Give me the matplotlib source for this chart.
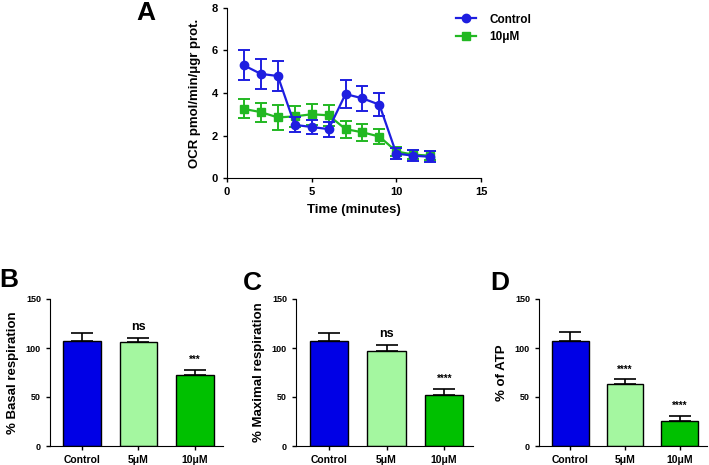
import matplotlib
matplotlib.use("Agg")
import matplotlib.pyplot as plt
from matplotlib.lines import Line2D

plt.rcParams['font.family'] = ['Liberation Sans', 'DejaVu Sans']
plt.rcParams['font.weight'] = 'bold'
plt.rcParams['axes.labelweight'] = 'bold'

# panel A data
minutes = [1, 2, 3, 4, 5, 6, 7, 8, 9, 10, 11, 12]
ctrl_ocr = [5.3, 4.9, 4.8, 2.5, 2.4, 2.3, 3.95, 3.75, 3.45, 1.15, 1.05, 1.0]
ctrl_err = [0.7, 0.7, 0.7, 0.35, 0.35, 0.35, 0.65, 0.6, 0.55, 0.25, 0.25, 0.25]
drug_ocr = [3.25, 3.1, 2.85, 2.9, 3.0, 2.95, 2.3, 2.15, 1.95, 1.25, 1.1, 1.05]
drug_err = [0.45, 0.45, 0.6, 0.5, 0.5, 0.5, 0.4, 0.4, 0.35, 0.2, 0.2, 0.2]

# panels B-D data
groups = ['Control', '5\u03bcM', '10\u03bcM']
basal = [107, 106, 72]
basal_err = [8, 4, 6]
basal_sig = ['', 'ns', '***']
maximal = [107, 97, 52]
maximal_err = [8, 6, 6]
maximal_sig = ['', 'ns', '****']
atp = [107, 63, 26]
atp_err = [9, 5, 5]
atp_sig = ['', '****', '****']

blue_line = '#1e1ee0'
green_line = '#22b822'
bar_colors = ['#0000e6', '#a4f7a0', '#00c000']

fig = plt.figure(figsize=(7.09, 4.65), dpi=100)


def style(ax, xsize, ysize):
    ax.spines['top'].set_visible(False)
    ax.spines['right'].set_visible(False)
    ax.tick_params(direction='out', length=3, width=1)
    ax.tick_params(axis='x', labelsize=xsize)
    ax.tick_params(axis='y', labelsize=ysize)
    for lab in ax.get_xticklabels() + ax.get_yticklabels():
        lab.set_fontweight('bold')


# panel A
axA = fig.add_axes([227 / 709, 1 - 178 / 465, 254 / 709, 170 / 465])
axA.errorbar(minutes, ctrl_ocr, yerr=ctrl_err, color=blue_line, marker='o',
             markersize=6, lw=1.6, capsize=4, elinewidth=1.4, capthick=1.4,
             zorder=3)
axA.errorbar(minutes, drug_ocr, yerr=drug_err, color=green_line, marker='s',
             markersize=6, lw=1.6, capsize=4, elinewidth=1.4, capthick=1.4,
             zorder=2)
axA.set_xlim(0, 15)
axA.set_ylim(0, 8)
axA.set_xticks([0, 5, 10, 15])
axA.set_yticks([0, 2, 4, 6, 8])
axA.set_xlabel('Time (minutes)', fontsize=9.5, labelpad=5)
axA.set_ylabel('OCR pmol/min/\u03bcgr prot.', fontsize=9.5, labelpad=8)
style(axA, 8, 8)
handles = [Line2D([], [], color=blue_line, marker='o', markersize=6, lw=1.6),
           Line2D([], [], color=green_line, marker='s', markersize=6, lw=1.6)]
axA.legend(handles, ['Control', '10\u03bcM'], loc='upper left',
           bbox_to_anchor=(0.86, 1.03), frameon=False, fontsize=8.5,
           handlelength=1.7, handletextpad=1.1, labelspacing=0.45)
fig.text(146 / 709, 1 - 13 / 465, 'A', fontsize=19, fontweight='bold',
         ha='center', va='center')


def bar_panel(rect, values, errs, sigs, ylabel, letter, letter_xy):
    ax = fig.add_axes(rect)
    x = range(len(groups))
    ax.bar(x, values, width=0.67, color=bar_colors, edgecolor='black', lw=1,
           yerr=[[0] * len(errs), errs], capsize=8,
           error_kw=dict(elinewidth=1.2, capthick=1.2, ecolor='black'))
    for i, s in enumerate(sigs):
        if s:
            fs = 9 if s == 'ns' else 7
            ax.text(i, values[i] + errs[i] + 5, s, ha='center', va='bottom',
                    fontsize=fs, fontweight='bold')
    ax.set_xlim(-0.57, 2.5)
    ax.set_ylim(0, 150)
    ax.set_yticks([0, 50, 100, 150])
    ax.set_xticks(list(x))
    ax.set_xticklabels(groups)
    ax.set_ylabel(ylabel, fontsize=9.5, labelpad=5)
    style(ax, 7.5, 6.5)
    fig.text(letter_xy[0] / 709, 1 - letter_xy[1] / 465, letter, fontsize=19,
             fontweight='bold', ha='center', va='center')
    return ax


bar_panel([50 / 709, 1 - 446 / 465, 173 / 709, 147 / 465], basal, basal_err,
          basal_sig, '% Basal respiration', 'B', (9, 280))
bar_panel([296 / 709, 1 - 446 / 465, 177 / 709, 147 / 465], maximal, maximal_err,
          maximal_sig, '% Maximal respiration', 'C', (252, 283))
bar_panel([539 / 709, 1 - 446 / 465, 168 / 709, 147 / 465], atp, atp_err,
          atp_sig, '% of ATP', 'D', (500, 283))

fig.savefig('out.png', dpi=100)
